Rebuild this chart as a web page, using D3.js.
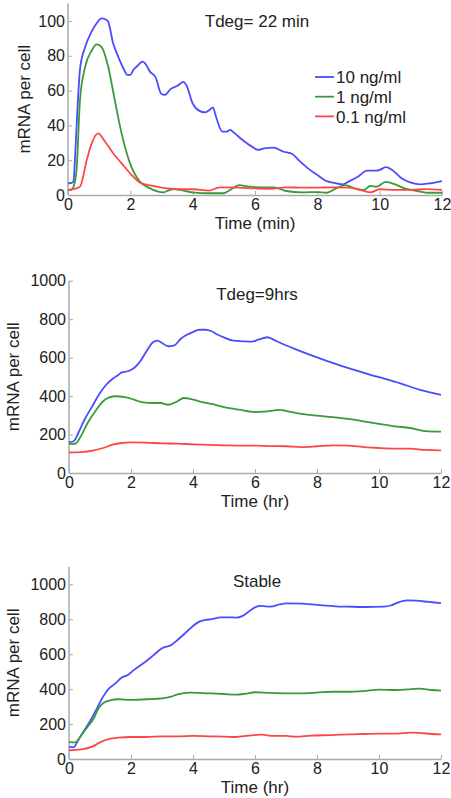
<!DOCTYPE html>
<html>
<head>
<meta charset="utf-8">
<script src="https://cdn.jsdelivr.net/npm/d3@7"></script>
<style>
  body { margin: 0; background: #fff; }
  text { font-family: "Liberation Sans", Arial, sans-serif; fill: #222; }
</style>
</head>
<body>
<script>
const WIDTH = 451;
const HEIGHT = 798;

const doseNames = ["10 ng/ml", "1 ng/ml", "0.1 ng/ml"];
const doseColors = ["#4b4bff", "#3a9a3a", "#ff4646"];

const panelTitles = ["Tdeg= 22 min", "Tdeg=9hrs", "Stable"];
const xLabels = ["Time (min)", "Time (hr)", "Time (hr)"];
const xTicks = [0, 2, 4, 6, 8, 10, 12];
const yTicksTop = [0, 20, 40, 60, 80, 100];
const yTicksBig = [0, 200, 400, 600, 800, 1000];

// panel 1 : Tdeg = 22 min  [time, mRNA]
const fast10 = [[0,6.7],[0.12,7],[0.17,7.6],[0.25,30],[0.32,55],[0.39,73],[0.55,85],[0.76,94],[0.92,98.7],[1.08,101.5],[1.2,101],[1.29,99.6],[1.45,87],[1.6,80],[1.8,72],[1.9,69],[2.0,69],[2.1,72],[2.2,73.7],[2.4,76.6],[2.5,75],[2.63,70.9],[2.8,68],[3.0,58],[3.1,57.5],[3.3,61],[3.5,62.6],[3.7,65],[3.8,63],[4.0,52.7],[4.2,48.5],[4.4,47.5],[4.55,49],[4.65,50.4],[4.75,45],[4.95,36.4],[5.1,36.4],[5.2,37.4],[5.35,35.4],[5.6,31.6],[5.9,27.8],[6.1,25.9],[6.3,26.8],[6.6,27.2],[6.9,25],[7.2,23.6],[7.4,20],[7.7,15.3],[8.0,11.5],[8.3,8],[8.5,7.1],[8.8,6.1],[9.0,7.7],[9.3,10.5],[9.6,14],[9.9,14],[10.0,14.4],[10.2,16],[10.4,14.4],[10.7,9.6],[11.0,7.1],[11.3,6.1],[11.6,6.7],[12,8]];
const fast1 = [[0,2.9],[0.1,3],[0.2,6],[0.28,16],[0.385,54.6],[0.55,73.7],[0.76,83],[0.92,86.6],[1.08,85],[1.29,73.7],[1.5,54.6],[1.72,35.4],[1.99,18.2],[2.31,7.6],[2.63,3.8],[3.06,1.5],[3.2,2.5],[3.4,3.4],[3.6,2.9],[4.0,1.5],[4.5,1],[5.0,1],[5.2,2.9],[5.5,5.7],[5.8,4.8],[6.3,4.4],[6.6,4.4],[7.0,2.3],[7.5,1.5],[8.0,1.7],[8.3,1.3],[8.6,3.8],[8.9,5.7],[9.2,3.8],[9.5,2.9],[9.7,5.2],[9.9,4.8],[10.2,7.5],[10.5,6.1],[10.8,3.8],[11.2,2.3],[11.6,1.3],[12,1.3]];
const fast01 = [[0,2.9],[0.2,3.5],[0.385,4.8],[0.6,20],[0.76,29.7],[0.97,35.4],[1.19,30.6],[1.45,24],[1.72,18.2],[2.04,11.5],[2.31,7.1],[2.73,5.2],[3.17,3.8],[3.5,3.3],[4.02,3.3],[4.52,2.5],[4.86,4.4],[5.5,4.2],[6.0,3.8],[6.5,3.6],[7.0,4.4],[7.5,4.2],[8.0,4.2],[8.5,4.4],[9.0,4.2],[9.3,3.3],[9.7,1.5],[10.0,3.3],[10.5,2.9],[11.0,2.9],[11.5,3.4],[12,2.9]];

// panel 2 : Tdeg = 9 hrs
const mid10 = [[0,161],[0.15,165],[0.3,208],[0.5,277],[0.75,347],[1.0,416],[1.2,459],[1.4,489],[1.6,511],[1.7,523],[1.9,529],[2.1,546],[2.3,581],[2.5,633],[2.7,679],[2.85,688],[3.0,676],[3.2,659],[3.4,664],[3.6,697],[3.8,719],[4.0,733],[4.2,745],[4.4,745],[4.6,737],[4.8,719],[5.0,705],[5.3,688],[5.6,685],[5.9,683],[6.1,693],[6.4,706],[6.7,685],[7.24,648],[7.78,614],[8.86,553],[9.94,501],[10.69,466],[11.33,432],[12,406]];
const mid1 = [[0,151],[0.2,152],[0.35,182],[0.6,260],[0.9,333],[1.1,373],[1.3,393],[1.5,399],[1.8,395],[2.1,381],[2.4,367],[2.7,364],[2.95,364],[3.2,355],[3.5,373],[3.7,390],[3.9,386],[4.2,373],[4.6,359],[5.0,343],[5.5,329],[6.0,317],[6.3,319],[6.8,328],[7.1,319],[7.5,307],[8.0,298],[8.5,291],[9.0,281],[9.5,269],[10.0,255],[10.5,243],[11.0,234],[11.5,218],[12,215]];
const mid01 = [[0,107],[0.4,109],[0.8,118],[1.1,130],[1.4,147],[1.7,156],[2.0,159],[2.5,158],[3.0,154],[3.5,153],[4.0,149],[4.5,146],[5.0,144],[5.5,142],[6.0,142],[6.5,140],[7.0,139],[7.5,135],[8.0,139],[8.5,144],[9.0,142],[9.5,135],[10.0,130],[10.5,127],[11.0,127],[11.5,120],[12,118]];

// panel 3 : stable
const stab10 = [[0,71],[0.15,67],[0.3,109],[0.5,166],[0.7,223],[0.9,290],[1.1,357],[1.3,405],[1.5,433],[1.7,466],[1.9,481],[2.1,510],[2.4,548],[2.7,590],[3.0,634],[3.3,653],[3.5,681],[3.8,729],[4.0,761],[4.2,786],[4.4,796],[4.6,800],[4.9,811],[5.2,811],[5.4,809],[5.6,819],[5.8,844],[6.0,868],[6.2,876],[6.5,872],[6.8,885],[7.0,891],[7.5,889],[8.0,882],[8.6,874],[9.0,872],[9.5,870],[10.15,872],[10.4,880],[10.6,895],[10.9,908],[11.2,906],[11.6,899],[12,892]];
const stab1 = [[0,97],[0.2,95],[0.4,137],[0.6,185],[0.8,233],[0.95,290],[1.1,319],[1.3,334],[1.6,342],[2.0,338],[2.5,342],[3.0,347],[3.3,357],[3.5,370],[3.9,380],[4.5,376],[5.0,372],[5.4,368],[5.7,374],[6.0,382],[6.5,378],[7.0,376],[7.5,376],[8.0,380],[8.5,385],[9.0,385],[9.5,389],[10.0,397],[10.5,395],[11.0,399],[11.3,403],[11.7,395],[12,391]];
const stab01 = [[0,50],[0.4,55],[0.75,71],[1.0,95],[1.3,115],[1.6,122],[2.0,126],[2.5,126],[3.0,130],[3.5,130],[4.0,132],[4.5,130],[5.0,128],[5.4,126],[5.8,134],[6.2,139],[6.6,132],[7.0,132],[7.3,128],[7.8,134],[8.5,137],[9.0,141],[9.5,143],[10.0,145],[10.5,145],[11.0,151],[11.3,149],[11.7,143],[12,141]];

const SVG = d3.select("body")
  .append("svg")
  .attr("width", WIDTH)
  .attr("height", HEIGHT);

const panels = [
  { title: panelTitles[0], xLabel: xLabels[0], yMax: 110, yTicks: yTicksTop,
    x0: 68, x1: 442, yBottom: 195, yTop: 3.6, titleY: 27, yLabelX: 30,
    series: [fast10, fast1, fast01], legend: true },
  { title: panelTitles[1], xLabel: xLabels[1], yMax: 1000, yTicks: yTicksBig,
    x0: 69, x1: 441, yBottom: 473, yTop: 280.7, titleY: 300, yLabelX: 19,
    series: [mid10, mid1, mid01] },
  { title: panelTitles[2], xLabel: xLabels[2], yMax: 1100, yTicks: yTicksBig,
    x0: 69, x1: 441, yBottom: 759, yTop: 566.8, titleY: 587, yLabelX: 19,
    series: [stab10, stab1, stab01] }
];

const dibujarPanel = (p) => {
  const x = d3.scaleLinear().domain([0, 12]).range([p.x0, p.x1]);
  const y = d3.scaleLinear().domain([0, p.yMax]).range([p.yBottom, p.yTop]);
  const g = SVG.append("g");

  // ejes: ticks hacia adentro, solo izquierda y abajo
  const ejeX = g.append("g")
    .attr("transform", `translate(0,${p.yBottom})`)
    .call(d3.axisBottom(x).tickValues(xTicks).tickFormat(d3.format("d"))
      .tickSizeInner(-4).tickSizeOuter(0).tickPadding(4));
  const ejeY = g.append("g")
    .attr("transform", `translate(${p.x0},0)`)
    .call(d3.axisLeft(y).tickValues(p.yTicks).tickFormat(d3.format("d"))
      .tickSizeInner(-4).tickSizeOuter(0).tickPadding(3));

  [ejeX, ejeY].forEach((eje) => {
    eje.select(".domain").attr("stroke", "#aaa").attr("stroke-width", 1.5);
    eje.selectAll(".tick line").attr("stroke", "#aaa").attr("stroke-width", 1);
    eje.selectAll(".tick text")
      .attr("font-size", 16)
      .attr("font-family", "Liberation Sans, Arial, sans-serif")
      .attr("fill", "#222");
  });
  ejeY.select(".domain").attr("d", `M0,${p.yBottom}V${p.yTop}`);

  const linea = d3.line()
    .x((d) => x(d[0]))
    .y((d) => y(d[1]))
    .curve(d3.curveMonotoneX);

  g.append("g")
    .selectAll("path")
    .data(p.series)
    .join("path")
    .attr("d", linea)
    .attr("fill", "none")
    .attr("stroke", (d, i) => doseColors[i])
    .attr("stroke-width", 1.8)
    .attr("stroke-linejoin", "round");

  g.append("text")
    .attr("x", 257)
    .attr("y", p.titleY)
    .attr("text-anchor", "middle")
    .attr("font-size", 17)
    .text(p.title);

  g.append("text")
    .attr("x", (p.x0 + p.x1) / 2)
    .attr("y", p.yBottom + 34)
    .attr("text-anchor", "middle")
    .attr("font-size", 17)
    .text(p.xLabel);

  g.append("text")
    .attr("transform", `translate(${p.yLabelX},${(p.yBottom + p.yTop) / 2}) rotate(-90)`)
    .attr("text-anchor", "middle")
    .attr("font-size", 17)
    .text("mRNA per cell");

  if (p.legend) {
    const filas = g.append("g")
      .selectAll("g")
      .data(doseNames)
      .join("g")
      .attr("transform", (d, i) => `translate(315,${77 + i * 19.7})`);
    filas.append("line")
      .attr("x1", 0).attr("x2", 19)
      .attr("stroke", (d, i) => doseColors[i])
      .attr("stroke-width", 1.8);
    filas.append("text")
      .attr("x", 21)
      .attr("dy", "0.36em")
      .attr("font-size", 17)
      .text((d) => d);
  }
};

panels.forEach(dibujarPanel);
</script>
</body>
</html>
